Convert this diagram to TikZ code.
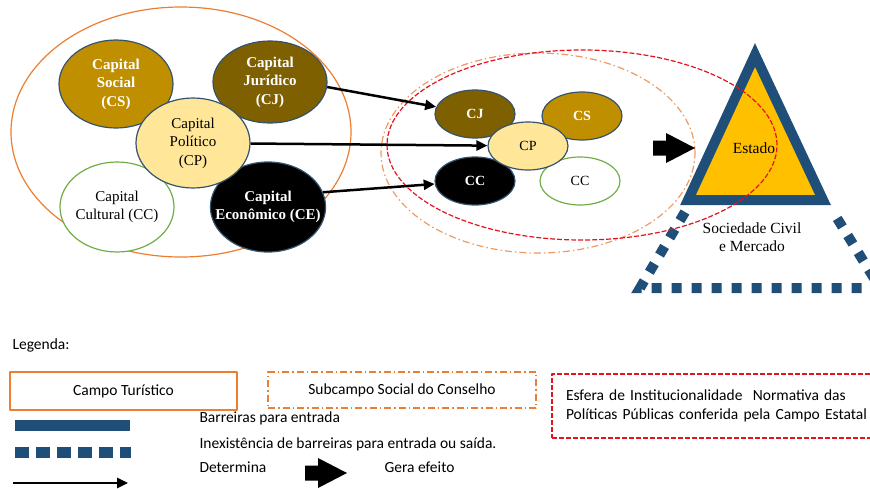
\documentclass[tikz,border=0pt]{standalone}
\usepackage{fontspec}
\setmainfont{Liberation Serif}
\newfontfamily\legfont{Carlito}
\usetikzlibrary{shapes.geometric,arrows.meta}
\definecolor{campoorange}{HTML}{ED7D31}
\definecolor{subcampo}{HTML}{EE9A63}
\definecolor{esferared}{HTML}{E3131F}
\definecolor{barrierblue}{HTML}{1F4E79}
\definecolor{estadoyellow}{HTML}{FFC000}
\definecolor{capgold}{HTML}{BF8F00}
\definecolor{capbrown}{HTML}{7F6000}
\definecolor{caplight}{HTML}{FFE699}
\definecolor{capgreen}{HTML}{70AD47}
\definecolor{caprim}{HTML}{34536E}
\tikzset{
  capital/.style={ellipse, draw=caprim, line width=1.2pt, inner xsep=-12pt, inner ysep=0pt, align=center,
    minimum width=114pt, minimum height=88pt, font=\fontsize{15}{18.5}\selectfont},
  capbold/.style={text=white, font=\fontsize{15}{18.5}\selectfont\bfseries},
  minicap/.style={capital, minimum width=80pt, minimum height=48pt, font=\fontsize{14}{16}\selectfont},
  minibold/.style={text=white, font=\fontsize{14}{16}\selectfont\bfseries},
  campo/.style={draw=campoorange, line width=1.2pt},
  subdash/.style={dash pattern=on 7pt off 3pt on 1.5pt off 3pt},
  esfdash/.style={dash pattern=on 5pt off 2pt},
  legtext/.style={font=\legfont\fontsize{15.5}{19}\selectfont},
  barrier/.style={draw=barrierblue, line width=11pt},
  openbarrier/.style={draw=barrierblue, line width=11pt, dash pattern=on 14pt off 7pt},
  determina/.style={draw=black, line width=2.5pt, -{Triangle[length=11pt,width=10pt]}},
  efeito/.pic={\fill[black] (0,-7.5) -- (13,-7.5) -- (13,-15) -- (42,0) -- (13,15) -- (13,7.5) -- (0,7.5) -- cycle;}
}
\begin{document}
\begin{tikzpicture}[x=1pt, y=-1pt, line join=round]
\useasboundingbox (0,0) rectangle (870,488);

% campo turistico
\draw[campo] (181,132) ellipse [x radius=170pt, y radius=125pt];

\node[capital, fill=capgold, capbold] (cs) at (116,84) {Capital\\Social\\(CS)};
\node[capital, fill=capbrown, capbold, minimum height=82pt] (cj) at (270,82) {Capital\\Jurídico\\(CJ)};
\node[capital, draw=capgreen, fill=white, minimum height=90pt] (cc) at (117,207) {Capital\\Cultural (CC)};
\node[capital, fill=black, capbold, minimum height=90pt] (ce) at (268,207) {Capital\\Econômico (CE)};
\node[capital, fill=caplight, minimum height=90pt] (cp) at (193,143) {Capital\\Político\\(CP)};

% estado e sociedade civil
\begin{scope}
\clip (0,0) rectangle (870,488);
\draw[barrierblue, line width=10pt, dash pattern=on 10pt off 10pt, line join=miter]
  (685,212) -- (640,288) -- (880,288) -- (832,210);
\end{scope}
\draw[barrierblue, fill=estadoyellow, line width=10pt, line join=miter]
  (755,55) -- (823,200) -- (688,200) -- cycle;

% subcampo e esfera
\draw[subcampo, line width=1.2pt, subdash] (538,153) ellipse [x radius=157pt, y radius=100pt];
\draw[esferared, line width=1.2pt, esfdash] (582,145) ellipse [x radius=195pt, y radius=95pt];

\node[minicap, fill=capbrown, minibold] (scj) at (475,114) {CJ};
\node[minicap, fill=capgold, minibold] (scs) at (582,116) {CS};
\node[minicap, fill=black, minibold] (scc) at (475,181) {CC};
\node[minicap, draw=capgreen, fill=white] (scw) at (580,181) {CC};
\node[minicap, fill=caplight] (scp) at (528,146) {CP};

\foreach \from/\to in {cj.-5/scj,cp/scp,ce.15/scc}
\draw[determina]
(\from)--(\to)
;

\pic at (653,148) {efeito};
\node[font=\fontsize{15.5}{18}\selectfont] (estado) at (754,148) {Estado};
\node[font=\fontsize{15.5}{18}\selectfont, align=center] (sociedade) at (752,237) {Sociedade Civil\\e Mercado};

% legenda
\node[legtext, anchor=west] (legenda) at (9,345) {Legenda:};
\node[legtext, draw=campoorange, line width=2pt, minimum width=227pt, minimum height=38pt, inner sep=0pt] (boxcampo) at (123.5,391) {Campo Turístico};
\node[legtext, draw=campoorange, line width=2pt, subdash, minimum width=268pt, minimum height=36pt, inner sep=0pt] (boxsub) at (402,390) {Subcampo Social do Conselho};
\node[legtext, draw=esferared, line width=2pt, esfdash, anchor=north west, text width=330pt, inner xsep=14pt, minimum height=64pt, align=left] (boxesfera) at (551,373) {Esfera de Institucionalidade\ \ Normativa das\\Políticas Públicas conferida pela Campo Estatal};

\coordinate (bar1) at (15,425);
\coordinate (bar2) at (130,425);
\coordinate (open1) at (15,452);
\coordinate (open2) at (131,452);
\coordinate (det1) at (13,483);
\coordinate (det2) at (128,483);
\draw[barrier] (bar1) -- (bar2);
\draw[openbarrier] (open1) -- (open2);
\draw[determina] (det1) -- (det2);
\pic at (305,473) {efeito};

\node[legtext, anchor=west] (txtbar) at (196,418) {Barreiras para entrada};
\node[legtext, anchor=west] (txtopen) at (196,444) {Inexistência de barreiras para entrada ou saída.};
\node[legtext, anchor=west] (txtdet) at (196,467) {Determina};
\node[legtext, anchor=west] (txtgera) at (381,467) {Gera efeito};
\end{tikzpicture}
\end{document}
